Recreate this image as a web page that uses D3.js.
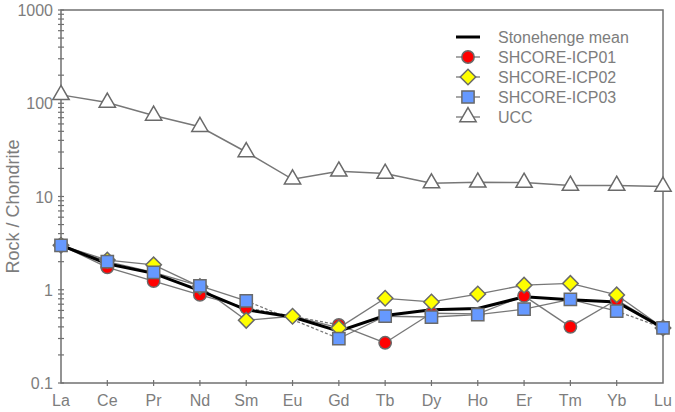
<!DOCTYPE html>
<html>
<head>
<meta charset="utf-8">
<script src="https://cdn.jsdelivr.net/npm/d3@7"></script>
<style>
  body { margin: 0; background: #fff; }
  text { font-family: Arial, "Liberation Sans", sans-serif; fill: #7d7d7d; }
</style>
</head>
<body>
<div id="chart"></div>
<script>
// REE spider diagram, chondrite normalised

const elements = ['La', 'Ce', 'Pr', 'Nd', 'Sm', 'Eu', 'Gd', 'Tb', 'Dy', 'Ho', 'Er', 'Tm', 'Yb', 'Lu'];

// null = no value, gap bridged with a dashed line
const icp01 = [3.0, 1.74, 1.24, 0.88, 0.64, null, 0.42, 0.27, 0.56, 0.55, 0.86, 0.40, 0.78, 0.39];
const icp02 = [3.0, 2.08, 1.85, 1.08, 0.47, 0.52, 0.39, 0.81, 0.74, 0.90, 1.12, 1.17, 0.88, 0.39];
const icp03 = [3.0, 2.0, 1.54, 1.10, 0.76, null, 0.30, 0.52, 0.51, 0.54, 0.62, 0.79, 0.59, 0.39];
const shMean = [3.0, 1.9, 1.5, 0.98, 0.61, 0.51, 0.36, 0.53, 0.61, 0.63, 0.84, 0.78, 0.74, 0.39];
const ucc = [123, 102, 74, 56, 30, 15.3, 18.6, 17.6, 13.9, 14.2, 14.1, 13.1, 13.1, 12.8];

// segments drawn dashed (index of segment end point)
const icp03Dashed = [13];

const yTicks = [0.1, 1, 10, 100, 1000];
const yTickLabels = ['0.1', '1', '10', '100', '1000'];

const width = 675, height = 412;
const mLeft = 61, mRight = 663, mTop = 10, mBottom = 383;
const axisColor = '#707070';
const lineColor = '#777';
const markStroke = '#6a6a6a';

const svg = d3.select('#chart').append('svg')
  .attr('width', width)
  .attr('height', height);

const x = d3.scalePoint().domain(elements).range([mLeft, mRight]);
const y = d3.scaleLog().domain([0.1, 1000]).range([mBottom, mTop]);

// frame
svg.append('rect')
  .attr('x', mLeft).attr('y', mTop)
  .attr('width', mRight - mLeft).attr('height', mBottom - mTop)
  .attr('fill', 'none')
  .attr('stroke', axisColor)
  .attr('stroke-width', 1.5);

// y ticks (major + minor), crossing the axis
const minor = [];
yTicks.slice(0, -1).forEach(t => { for (let k = 2; k <= 9; k++) minor.push(t * k); });
svg.append('g').selectAll('line')
  .data(yTicks.concat(minor))
  .enter().append('line')
  .attr('x1', mLeft - 3).attr('x2', mLeft + 3)
  .attr('y1', d => y(d)).attr('y2', d => y(d))
  .attr('stroke', axisColor).attr('stroke-width', 1.2);

svg.append('g').selectAll('text')
  .data(yTicks)
  .enter().append('text')
  .attr('x', mLeft - 8)
  .attr('y', d => y(d) + 6)
  .attr('text-anchor', 'end')
  .attr('font-size', 16)
  .text((d, i) => yTickLabels[i]);

// x ticks
svg.append('g').selectAll('line')
  .data(elements.slice(1, -1))
  .enter().append('line')
  .attr('x1', d => x(d)).attr('x2', d => x(d))
  .attr('y1', mBottom - 3).attr('y2', mBottom + 3)
  .attr('stroke', axisColor).attr('stroke-width', 1.2);

svg.append('g').selectAll('text')
  .data(elements)
  .enter().append('text')
  .attr('x', d => x(d))
  .attr('y', mBottom + 23)
  .attr('text-anchor', 'middle')
  .attr('font-size', 16)
  .text(d => d);

svg.append('text')
  .attr('transform', `translate(19,${(mTop + mBottom) / 2 + 10}) rotate(-90)`)
  .attr('text-anchor', 'middle')
  .attr('font-size', 18)
  .text('Rock / Chondrite');

// series definitions
const samples = [
  { name: 'SHCORE-ICP01', values: icp01, fill: '#ff0000', shape: 'circle', dashed: [] },
  { name: 'SHCORE-ICP02', values: icp02, fill: '#ffff00', shape: 'diamond', dashed: [] },
  { name: 'SHCORE-ICP03', values: icp03, fill: '#6699ff', shape: 'square', dashed: icp03Dashed }
];

function markerPath(shape) {
  if (shape === 'circle') return d3.symbol(d3.symbolCircle, 120)();
  if (shape === 'square') return d3.symbol(d3.symbolSquare, 150)();
  if (shape === 'diamond') return d3.symbol(d3.symbolSquare, 120)();
  return d3.symbol(d3.symbolTriangle, 115)();
}

function segments(values) {
  // pairs of consecutive defined points, with flag if a gap was bridged
  const pts = values.map((v, i) => ({ i, v })).filter(p => p.v != null);
  const segs = [];
  for (let k = 1; k < pts.length; k++) {
    segs.push({ a: pts[k - 1], b: pts[k], gap: pts[k].i - pts[k - 1].i > 1 });
  }
  return segs;
}

const gLines = svg.append('g');

// UCC
gLines.append('path')
  .datum(ucc)
  .attr('fill', 'none')
  .attr('stroke', lineColor)
  .attr('stroke-width', 1.5)
  .attr('d', d3.line().x((d, i) => x(elements[i])).y(d => y(d)));

samples.forEach(s => {
  gLines.append('g').selectAll('line')
    .data(segments(s.values))
    .enter().append('line')
    .attr('x1', d => x(elements[d.a.i])).attr('y1', d => y(d.a.v))
    .attr('x2', d => x(elements[d.b.i])).attr('y2', d => y(d.b.v))
    .attr('stroke', lineColor)
    .attr('stroke-width', 1.3)
    .attr('stroke-dasharray', d => (d.gap || s.dashed.includes(d.b.i)) ? '3,2' : null);
});

// mean
gLines.append('path')
  .datum(shMean)
  .attr('fill', 'none')
  .attr('stroke', '#000')
  .attr('stroke-width', 3)
  .attr('d', d3.line().x((d, i) => x(elements[i])).y(d => y(d)));

// markers
svg.append('g').selectAll('path')
  .data(ucc)
  .enter().append('path')
  .attr('d', markerPath('triangle'))
  .attr('transform', (d, i) => `translate(${x(elements[i])},${y(d)})`)
  .attr('fill', '#fff')
  .attr('stroke', markStroke)
  .attr('stroke-width', 1.5);

samples.forEach(s => {
  svg.append('g').selectAll('path')
    .data(s.values.map((v, i) => ({ v, i })).filter(d => d.v != null))
    .enter().append('path')
    .attr('d', markerPath(s.shape))
    .attr('transform', d => `translate(${x(elements[d.i])},${y(d.v)})` + (s.shape === 'diamond' ? ' rotate(45)' : ''))
    .attr('fill', s.fill)
    .attr('stroke', markStroke)
    .attr('stroke-width', 1.5);
});

// legend
const legendItems = [
  { name: 'Stonehenge mean', mean: true },
  { name: samples[0].name, fill: samples[0].fill, shape: 'circle' },
  { name: samples[1].name, fill: samples[1].fill, shape: 'diamond' },
  { name: samples[2].name, fill: samples[2].fill, shape: 'square' },
  { name: 'UCC', fill: '#fff', shape: 'triangle' }
];

const legend = svg.append('g').attr('transform', 'translate(456,37)');
legendItems.forEach((d, i) => {
  const row = legend.append('g').attr('transform', `translate(0,${i * 20})`);
  row.append('line')
    .attr('x1', 0).attr('x2', 24)
    .attr('stroke', d.mean ? '#000' : lineColor)
    .attr('stroke-width', d.mean ? 3 : 1.3);
  if (!d.mean) {
    row.append('path')
      .attr('d', markerPath(d.shape))
      .attr('transform', 'translate(12,0)' + (d.shape === 'diamond' ? ' rotate(45)' : ''))
      .attr('fill', d.fill)
      .attr('stroke', markStroke)
      .attr('stroke-width', 1.5);
  }
  row.append('text')
    .attr('x', 42)
    .attr('y', 6)
    .attr('font-size', 16)
    .text(d.name);
});
</script>
</body>
</html>
